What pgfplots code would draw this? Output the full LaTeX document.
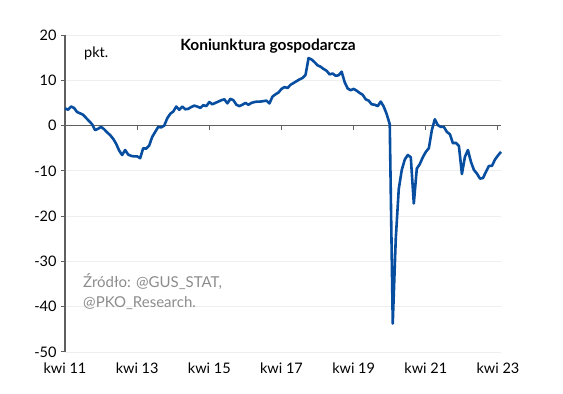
\documentclass[border=0pt]{standalone}
\usepackage{fontspec}
\setmainfont{Lato}
\usepackage{pgfplots}
\usepackage{pgfplotstable}
\pgfplotsset{compat=1.18}
\definecolor{pkoblue}{RGB}{8,78,160}
\definecolor{axgray}{RGB}{95,95,95}
\definecolor{gridgray}{RGB}{238,238,238}
\definecolor{srcgray}{RGB}{140,140,140}
\pgfplotstableread{
m v
0 3.8
1 3.5
2 4.2
3 3.9
4 3.0
5 2.7
6 2.4
7 1.7
8 1.0
9 0.3
10 -1.0
11 -0.7
12 -0.3
13 -0.8
14 -1.5
15 -2.1
16 -2.9
17 -4.0
18 -5.5
19 -6.5
20 -5.4
21 -6.4
22 -6.7
23 -6.8
24 -6.8
25 -7.2
26 -5.0
27 -5.1
28 -4.4
29 -2.5
30 -1.4
31 -0.3
32 -0.4
33 0.0
34 1.6
35 2.6
36 3.1
37 4.2
38 3.5
39 4.2
40 3.6
41 3.7
42 4.1
43 4.4
44 4.2
45 3.9
46 4.5
47 4.3
48 5.2
49 4.7
50 5.0
51 5.3
52 5.6
53 5.8
54 4.9
55 5.9
56 5.6
57 4.6
58 4.3
59 4.6
60 5.0
61 4.6
62 5.0
63 5.2
64 5.3
65 5.3
66 5.4
67 5.5
68 4.9
69 6.4
70 6.9
71 7.3
72 8.1
73 8.5
74 8.3
75 9.0
76 9.4
77 9.8
78 10.2
79 10.5
80 11.2
81 14.9
82 14.6
83 14.0
84 13.3
85 13.0
86 12.5
87 12.1
88 11.3
89 11.5
90 11.0
91 11.1
92 11.9
93 9.6
94 8.2
95 7.8
96 8.1
97 7.7
98 7.2
99 6.8
100 5.8
101 5.5
102 4.7
103 4.6
104 4.3
105 5.3
106 4.2
107 2.5
108 0.3
109 -43.7
110 -25.0
111 -14.0
112 -9.8
113 -7.5
114 -6.5
115 -7.0
116 -17.2
117 -9.5
118 -8.5
119 -7.0
120 -5.8
121 -5.0
122 -1.0
123 1.4
124 0.1
125 -0.3
126 -0.3
127 -1.4
128 -1.9
129 -3.9
130 -3.8
131 -4.5
132 -10.7
133 -6.9
134 -5.4
135 -8.0
136 -9.8
137 -10.6
138 -11.7
139 -11.6
140 -10.2
141 -8.9
142 -8.9
143 -7.5
144 -6.6
145 -5.8
}\datatable
\begin{document}
\begin{tikzpicture}[x=1pt,y=1pt]
\useasboundingbox (-65,-42) rectangle (498,352);
\begin{axis}[
  at={(0,0)}, anchor=south west,
  scale only axis, width=436pt, height=317pt,
  xmin=0, xmax=145, ymin=-50, ymax=20,
  ytick={-50,-40,...,20},
  xtick={0,24,...,144},
  xticklabels={kwi 11,kwi 13,kwi 15,kwi 17,kwi 19,kwi 21,kwi 23},
  axis lines*=left,
  axis line style={-},
  x axis line style={draw=none},
  xtick style={draw=none},
  y axis line style={axgray, line width=1.3pt},
  ytick style={axgray, line width=1pt},
  tick align=outside,
  major tick length=4pt,
  ymajorgrids,
  grid style={gridgray, line width=0.8pt},
  tick label style={font=\fontsize{14.5}{16}\selectfont, text=black},
  /pgf/number format/assume math mode=true,
  xticklabel style={yshift=-3pt},
  yticklabel style={xshift=-1pt},
  clip=false,
]
\draw[axgray, line width=1.3pt] (axis cs:0,0) -- (axis cs:145,0);
\draw[axgray, line width=1pt] (axis cs:24,0) -- ([yshift=-4pt]axis cs:24,0);
\draw[axgray, line width=1pt] (axis cs:48,0) -- ([yshift=-4pt]axis cs:48,0);
\draw[axgray, line width=1pt] (axis cs:72,0) -- ([yshift=-4pt]axis cs:72,0);
\draw[axgray, line width=1pt] (axis cs:96,0) -- ([yshift=-4pt]axis cs:96,0);
\draw[axgray, line width=1pt] (axis cs:120,0) -- ([yshift=-4pt]axis cs:120,0);
\draw[axgray, line width=1pt] (axis cs:144,0) -- ([yshift=-4pt]axis cs:144,0);
\addplot[pkoblue, line width=2.6pt, line join=round, no markers] table[x=m, y=v] {\datatable};
\end{axis}
\node[font=\bfseries\fontsize{15.5}{17}\selectfont, anchor=base] at (203,301) {Koniunktura gospodarcza};
\node[font=\fontsize{14.5}{16}\selectfont, anchor=base west, inner sep=0pt] at (19,294) {pkt.};
\node[font=\fontsize{15}{17}\selectfont, anchor=base west, inner sep=0pt, text=srcgray] at (18,64) {Źródło: @GUS\_STAT,};
\node[font=\fontsize{15}{17}\selectfont, anchor=base west, inner sep=0pt, text=srcgray] at (18,45) {@PKO\_Research.};
\end{tikzpicture}
\end{document}
